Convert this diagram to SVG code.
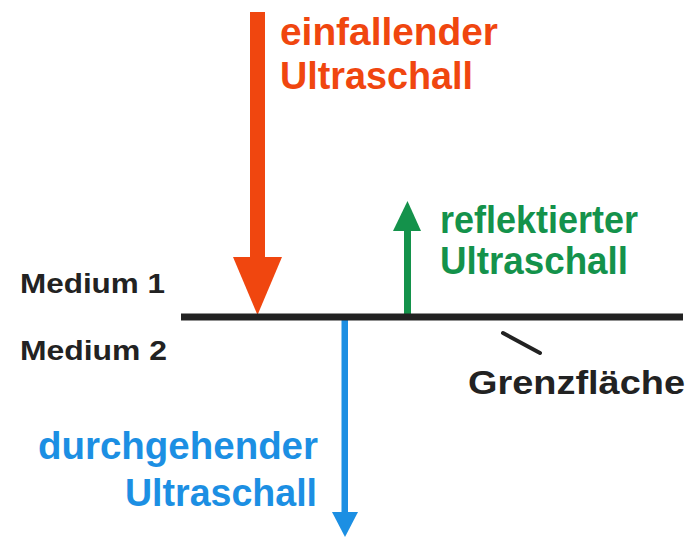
<svg xmlns="http://www.w3.org/2000/svg" width="697" height="539" viewBox="0 0 697 539">
<style>
text{font-family:"Liberation Sans",Arial,Helvetica,sans-serif;font-weight:bold}
.or{fill:#F0460F}
.gr{fill:#14924B}
.bl{fill:#1C8FE3}
.dk{fill:#222}
.big{font-size:38px}
.med{font-size:28px}
.gz{font-size:33px}
</style>
<rect width="697" height="539" fill="#fff"/>
<g id="connectors">
<g id="incident-arrow" class="or">
<rect x="250" y="12" width="15" height="247"/>
<polygon points="233,257 282,257 257.5,315"/>
</g>
<g id="reflected-arrow" class="gr">
<rect x="404" y="226" width="7" height="91"/>
<polygon points="393,231 421,231 407.5,201"/>
</g>
<g id="transmitted-arrow" class="bl">
<rect x="341.5" y="318" width="6.5" height="197"/>
<polygon points="332,512 358,512 345,537"/>
</g>
<line id="pointer" x1="503" y1="333" x2="540" y2="353" stroke="#222" stroke-width="4" stroke-linecap="round"/>
</g>
<g id="interface">
<line x1="181" y1="317" x2="683" y2="317" stroke="#222" stroke-width="7"/>
</g>
<g id="label-incident">
<text class="or big" x="280" y="45" textLength="218" lengthAdjust="spacingAndGlyphs">einfallender</text>
<text class="or big" x="280" y="89" textLength="193" lengthAdjust="spacingAndGlyphs">Ultraschall</text>
</g>
<g id="label-reflected">
<text class="gr big" x="440" y="233" textLength="198" lengthAdjust="spacingAndGlyphs">reflektierter</text>
<text class="gr big" x="440" y="274" textLength="188" lengthAdjust="spacingAndGlyphs">Ultraschall</text>
</g>
<g id="label-transmitted">
<text class="bl big" x="38" y="459" textLength="280" lengthAdjust="spacingAndGlyphs">durchgehender</text>
<text class="bl big" x="125" y="506" textLength="192" lengthAdjust="spacingAndGlyphs">Ultraschall</text>
</g>
<g id="label-medium1">
<text class="dk med" x="20" y="293" textLength="145" lengthAdjust="spacingAndGlyphs">Medium 1</text>
</g>
<g id="label-medium2">
<text class="dk med" x="20" y="360" textLength="147" lengthAdjust="spacingAndGlyphs">Medium 2</text>
</g>
<g id="label-interface">
<text class="dk gz" x="468" y="394" textLength="217" lengthAdjust="spacingAndGlyphs">Grenzfläche</text>
</g>
</svg>
